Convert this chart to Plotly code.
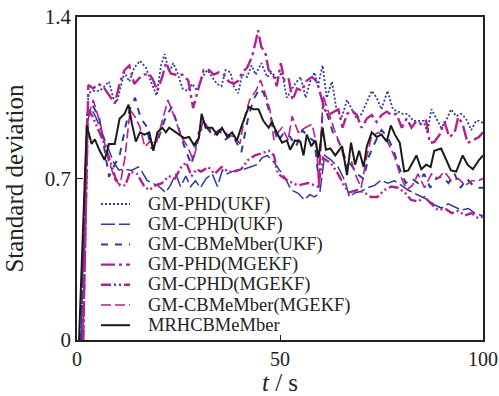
import plotly.graph_objects as go

# ---------------- data ----------------
t_phd_ukf = [1.0, 2.8, 4.0, 5.6, 6.8, 7.9, 8.9, 9.8, 10.8, 11.7, 12.9, 14.1, 15.5, 17.0, 18.2, 19.6, 20.7, 21.6, 22.7, 23.7,
             24.7, 26.0, 27.2, 28.4, 29.6, 30.9, 32.1, 33.3, 34.5, 35.6, 36.6, 37.8, 38.6, 39.7, 40.7, 41.9, 43.0, 44.0, 45.4,
             46.8, 48.0, 49.2, 50.5, 51.7, 52.7, 53.7, 55.1, 56.3, 57.4, 58.5, 59.3, 60.5, 61.5, 62.8, 64.0, 65.3, 66.5, 67.7,
             68.9, 70.1, 71.4, 72.6, 73.8, 75.0, 76.5, 77.8, 79.1, 80.3, 81.5, 82.8, 84.0, 85.3, 86.3, 87.3, 88.5, 89.7, 90.9,
             92.1, 93.4, 94.6, 95.8, 97.1, 98.3, 99.0, 100]
v_phd_ukf = [0, 1.07, 1.08, 1.08, 1.10, 1.12, 1.05, 1.03, 1.10, 1.16, 1.12, 1.18, 1.21, 1.18, 1.12, 1.06, 1.19, 1.24, 1.16, 1.20,
             1.16, 1.09, 1.08, 1.11, 1.08, 1.14, 1.17, 1.14, 1.11, 1.10, 1.17, 1.16, 1.10, 1.07, 1.15, 1.14, 1.19, 1.15, 1.20,
             1.14, 1.16, 1.13, 1.16, 1.05, 1.08, 1.11, 1.14, 1.05, 1.12, 1.16, 1.10, 1.19, 1.05, 1.12, 0.99, 0.97, 1.04, 1.00,
             0.96, 0.98, 1.03, 1.08, 1.05, 1.00, 1.08, 1.00, 0.99, 0.98, 0.98, 0.95, 0.95, 0.95, 0.90, 1.00, 0.96, 0.92, 0.95,
             1.00, 0.97, 0.98, 0.96, 0.91, 0.95, 0.95, 0.94]

t_cphd_ukf = [1.0, 2.5, 3.6, 4.6, 6.2, 7.9, 9.1, 10.3, 11.9, 13.5, 15.1, 16.0, 17.2, 18.5, 20.1, 21.8, 23.0, 24.3, 25.5, 26.8,
              28.0, 29.2, 30.4, 31.8, 33.3, 34.6, 35.8, 37.0, 38.2, 39.5, 41.1, 42.7, 44.3, 45.6, 46.9, 48.5, 49.8, 51.1, 52.8,
              54.4, 56.0, 57.3, 58.5, 59.8, 61.0, 62.6, 64.3, 65.9, 67.1, 68.4, 70.0, 71.6, 73.3, 74.9, 76.5, 78.2, 79.9, 81.5,
              83.2, 84.8, 86.5, 88.1, 89.8, 91.4, 93.1, 94.7, 96.4, 98.0, 99.6, 100]
v_cphd_ukf = [0, 0.95, 1.0, 0.967, 0.897, 0.823, 0.767, 0.737, 0.74, 0.735, 0.75, 0.73, 0.693, 0.68, 0.667, 0.64, 0.67, 0.72,
              0.665, 0.71, 0.665, 0.69, 0.66, 0.70, 0.72, 0.665, 0.737, 0.72, 0.73, 0.737, 0.74, 0.75, 0.76, 0.79, 0.80, 0.77,
              0.737, 0.707, 0.65, 0.637, 0.607, 0.63, 0.62, 0.637, 0.80, 0.78, 0.75, 0.693, 0.62, 0.637, 0.645, 0.66, 0.67,
              0.693, 0.68, 0.69, 0.67, 0.65, 0.635, 0.62, 0.607, 0.585, 0.572, 0.59, 0.575, 0.563, 0.57, 0.55, 0.54, 0.54]

t_cbm_ukf = [1.0, 2.5, 3.8, 5.5, 7.9, 9.0, 10.5, 12.0, 13.0, 14.3, 15.7, 17.0, 18.3, 19.8, 21.5, 23.3, 25.0, 26.6, 28.2, 30.0,
             31.5, 33.3, 35.0, 36.6, 38.3, 40.5, 42.0, 43.4, 45.0, 46.0, 47.2, 48.4, 49.5, 51.0, 52.5, 54.0, 55.5, 57.0, 58.5,
             59.5, 60.6, 61.8, 63.0, 64.5, 66.0, 67.5, 69.0, 70.5, 72.0, 73.5, 75.0, 76.5, 78.0, 79.5, 81.0, 82.5, 84.0, 85.5,
             87.0, 88.5, 90.0, 91.5, 93.0, 94.5, 96.0, 97.5, 99.0, 100]
v_cbm_ukf = [0, 0.98, 1.02, 0.96, 0.707, 0.75, 0.80, 0.93, 1.00, 1.05, 0.96, 0.93, 0.83, 0.86, 0.95, 1.01, 0.92, 0.83, 0.76,
             0.90, 0.93, 0.89, 0.91, 0.87, 0.89, 0.815, 0.95, 1.04, 1.09, 1.07, 1.0, 0.93, 0.86, 0.90, 0.88, 0.84, 0.91, 0.88,
             0.86, 0.70, 1.02, 0.97, 0.90, 0.86, 0.79, 0.76, 0.72, 0.70, 0.80, 0.86, 0.91, 0.88, 0.82, 0.74, 0.68, 0.70, 0.68,
             0.72, 0.66, 0.70, 0.71, 0.68, 0.72, 0.66, 0.70, 0.67, 0.66, 0.66]

t_phd_mg = [1.5, 2.8, 4.0, 5.2, 6.4, 7.9, 9.3, 10.5, 11.7, 12.9, 14.1, 15.3, 16.6, 17.8, 18.8, 19.8, 21.0, 21.9, 23.1, 24.3,
            26.0, 27.4, 28.6, 29.9, 31.2, 32.5, 33.7, 34.9, 36.1, 37.4, 38.6, 39.8, 40.7, 41.9, 43.1, 44.1, 44.6, 45.4, 46.4,
            47.2, 48.2, 49.2, 50.2, 51.1, 52.1, 53.1, 54.2, 55.4, 56.6, 57.9, 59.1, 60.2, 61.1, 62.4, 63.6, 64.4, 65.4, 66.5,
            67.7, 68.9, 70.1, 71.4, 72.6, 73.8, 75.0, 76.3, 77.5, 78.7, 80.0, 81.2, 82.4, 83.6, 84.8, 86.0, 86.9, 88.0, 89.3,
            90.5, 91.7, 93.0, 93.9, 95.0, 96.2, 97.5, 99.0, 100]
v_phd_mg = [0, 1.105, 1.09, 1.11, 1.10, 1.06, 1.025, 1.11, 1.17, 1.19, 1.11, 1.135, 1.15, 1.155, 1.125, 1.08, 1.14, 1.20,
            1.155, 1.15, 1.15, 1.125, 1.005, 1.09, 1.17, 1.17, 1.15, 1.16, 1.15, 1.12, 1.11, 1.125, 1.16, 1.18, 1.227, 1.30,
            1.343, 1.27, 1.245, 1.17, 1.155, 1.10, 1.20, 1.125, 1.135, 1.04, 1.09, 1.08, 1.125, 1.14, 1.12, 1.05, 0.995, 0.98,
            0.99, 1.0, 0.92, 0.98, 0.995, 0.975, 0.92, 0.96, 0.975, 0.945, 0.975, 0.99, 0.975, 0.98, 0.92, 0.96, 0.92, 0.95,
            0.935, 0.95, 0.854, 0.858, 0.89, 0.945, 0.88, 0.897, 0.966, 0.935, 0.854, 0.867, 0.88, 0.90]

t_cphd_mg = [1.5, 2.7, 3.8, 5.0, 6.5, 7.9, 9.5, 10.6, 11.9, 13.1, 14.8, 16.6, 17.8, 19.3, 20.9, 22.6, 24.1, 25.7, 26.9, 28.2,
             29.4, 30.6, 32.3, 33.9, 35.6, 37.2, 38.8, 40.4, 42.1, 43.8, 45.4, 47.3, 48.5, 49.5, 52.0, 54.4, 56.9, 59.4, 60.6,
             62.6, 64.3, 65.9, 67.1, 69.0, 70.7, 72.4, 74.0, 75.7, 77.4, 79.0, 80.7, 82.3, 84.0, 85.6, 87.3, 88.9, 90.6, 92.3,
             93.9, 95.5, 97.2, 98.8, 100]
v_cphd_mg = [0, 1.0, 0.97, 0.92, 0.86, 0.79, 0.70, 0.67, 0.67, 0.73, 0.72, 0.665, 0.65, 0.67, 0.68, 0.71, 0.70, 0.75, 0.77,
             0.71, 0.74, 0.73, 0.75, 0.72, 0.75, 0.73, 0.73, 0.74, 0.78, 0.80, 0.81, 0.82, 0.80, 0.72, 0.69, 0.67, 0.68, 0.665,
             0.79, 0.765, 0.72, 0.665, 0.64, 0.65, 0.64, 0.62, 0.62, 0.65, 0.665, 0.66, 0.64, 0.607, 0.60, 0.62, 0.59, 0.563,
             0.57, 0.55, 0.56, 0.54, 0.55, 0.528, 0.535]

t_cbm_mg = [1.5, 2.5, 4.0, 5.7, 7.6, 9.4, 10.6, 11.8, 13.1, 14.3, 15.5, 16.7, 17.9, 19.5, 21.0, 22.4, 24.0, 25.7, 27.3, 28.6,
            29.8, 31.1, 32.3, 34.0, 35.6, 37.2, 38.9, 40.1, 41.3, 42.5, 44.2, 45.2, 46.5, 47.5, 48.5, 49.5, 50.5, 52.0, 53.0,
            54.5, 56.2, 57.9, 59.0, 59.6, 60.6, 61.8, 63.4, 65.0, 66.3, 67.5, 68.8, 70.0, 71.3, 72.5, 74.2, 75.8, 77.1, 78.3,
            79.5, 81.2, 82.6, 84.0, 85.6, 87.3, 88.9, 90.5, 92.2, 93.9, 95.6, 97.2, 98.8, 100]
v_cbm_mg = [0, 0.95, 1.04, 0.94, 0.79, 0.693, 0.672, 0.79, 0.997, 0.967, 0.923, 0.837, 0.86, 0.85, 0.95, 1.04, 0.967, 0.88,
            0.837, 0.78, 0.86, 0.953, 0.92, 0.89, 0.91, 0.89, 0.88, 0.85, 0.967, 1.04, 1.084, 1.127, 1.06, 1.0, 0.867, 0.90,
            0.92, 0.867, 0.97, 0.90, 0.92, 0.935, 0.85, 0.66, 1.06, 0.997, 0.91, 0.837, 0.75, 0.78, 0.707, 0.66, 0.79, 0.88,
            0.90, 0.88, 0.837, 0.79, 0.72, 0.65, 0.67, 0.72, 0.66, 0.72, 0.70, 0.73, 0.69, 0.70, 0.67, 0.69, 0.69, 0.70]

t_mrh = [0.5, 2.4, 3.6, 4.4, 5.6, 6.8, 7.9, 9.3, 10.5, 11.7, 12.7, 13.5, 14.5, 15.5, 16.6, 17.8, 18.8, 19.8, 21, 21.9, 22.7,
         24.3, 26.4, 27.6, 28.8, 30, 30.7, 31.7, 33.3, 34.5, 35.7, 37, 38.2, 39.4, 40.6, 42.3, 43.5, 44.7, 45.9, 47.2, 48,
         49.2, 50.5, 51.7, 52.5, 53.7, 55, 55.8, 56.6, 57.7, 58.7, 59.5, 60.5, 61.3, 62.4, 63.6, 65.3, 66.5, 67.5, 68.5, 69.5,
         70.6, 71.4, 72.6, 73.8, 75, 76.3, 77.3, 78.3, 79.5, 80.6, 81.6, 82.4, 83.6, 84.8, 86, 87.1, 88, 89.7, 90.9, 92.1,
         93.4, 95, 96.2, 97.5, 99, 100]
v_mrh = [0, 0.93, 0.85, 0.87, 0.82, 0.78, 0.85, 0.85, 0.96, 0.98, 1.02, 0.94, 0.86, 0.90, 0.89, 0.90, 0.82, 0.90, 0.92, 0.90,
         0.92, 0.90, 0.875, 0.88, 0.845, 0.875, 0.98, 0.92, 0.92, 0.89, 0.92, 0.88, 0.90, 0.865, 0.93, 1.01, 1.0, 1.0, 0.95,
         0.92, 0.945, 0.90, 0.855, 0.865, 0.825, 0.865, 0.86, 0.80, 0.89, 0.84, 0.865, 0.79, 0.92, 0.825, 0.83, 0.80, 0.84,
         0.715, 0.855, 0.76, 0.82, 0.75, 0.84, 0.90, 0.88, 0.89, 0.86, 0.93, 0.89, 0.855, 0.73, 0.735, 0.76, 0.80, 0.74, 0.76,
         0.75, 0.82, 0.83, 0.78, 0.735, 0.73, 0.80, 0.76, 0.74, 0.78, 0.80]

names = ["GM-PHD(UKF)", "GM-CPHD(UKF)", "GM-CBMeMber(UKF)", "GM-PHD(MGEKF)",
         "GM-CPHD(MGEKF)", "GM-CBMeMber(MGEKF)", "MRHCBMeMber"]
x_ticks = [0, 50, 100]
y_ticks = [0, 0.7, 1.4]
y_ticktext = ["0", "0.7", "1.4"]

# ---------------- styles ----------------
BLUE = "#2e3c9e"
MAG = "#b4208e"
styles = [
    dict(color=BLUE, width=1.8, dash="2px,2px"),
    dict(color=BLUE, width=1.5, dash="14px,4px"),
    dict(color=BLUE, width=2.0, dash="7px,7px"),
    dict(color=MAG, width=2.4, dash="14px,4px,3px,4px"),
    dict(color=MAG, width=2.4, dash="10px,3px,2px,3px,2px,3px"),
    dict(color=MAG, width=1.6, dash="10px,4px"),
    dict(color="#1a1a1a", width=2.0, dash="solid"),
]
series = [(t_phd_ukf, v_phd_ukf), (t_cphd_ukf, v_cphd_ukf), (t_cbm_ukf, v_cbm_ukf),
          (t_phd_mg, v_phd_mg), (t_cphd_mg, v_cphd_mg), (t_cbm_mg, v_cbm_mg), (t_mrh, v_mrh)]

fig = go.Figure()
for name, (tt, vv), st in zip(names, series, styles):
    n = min(len(tt), len(vv))
    fig.add_trace(go.Scatter(x=tt[:n], y=vv[:n], mode="lines", name=name, line=st, showlegend=False))

# ---------------- layout ----------------
W, H = 499, 396
L, R, T, B = 77, 16, 17, 56
pw, ph = W - L - R, H - T - B
FONT = "Liberation Serif"

def px_x(p):
    return (p - L) / pw

def px_y(p):
    return (H - B - p) / ph

# hand-placed legend (tight row spacing like the reference)
shapes = []
annotations = []
for i, (name, st) in enumerate(zip(names, styles)):
    yy = px_y(204 + 20.2 * i)
    shapes.append(dict(type="line", xref="paper", yref="paper", x0=px_x(101), x1=px_x(130), y0=yy, y1=yy,
                       line=dict(color=st["color"], width=st["width"], dash=st["dash"])))
    annotations.append(dict(xref="paper", yref="paper", x=px_x(146), y=yy, text=name, showarrow=False,
                            xanchor="left", yanchor="middle", font=dict(family=FONT, size=18.5, color="#222")))

fig.update_layout(
    width=W, height=H,
    margin=dict(l=L, r=R, t=T, b=B),
    paper_bgcolor="white", plot_bgcolor="white",
    font=dict(family=FONT, size=21, color="#222"),
    shapes=shapes, annotations=annotations,
    xaxis=dict(range=[0, 100], tickvals=x_ticks, ticks="inside", ticklen=5, tickcolor="#222", automargin=False,
               showgrid=False, zeroline=False, showline=True, mirror=True, linecolor="#222", linewidth=1.6,
               title=dict(text="<i>t</i> / s", standoff=8), tickfont=dict(size=20)),
    yaxis=dict(range=[0, 1.4], tickvals=y_ticks, ticktext=y_ticktext, ticks="inside", ticklen=6, tickcolor="#222",
               automargin=False,
               showgrid=False, zeroline=False, showline=True, mirror=True, linecolor="#222", linewidth=1.6,
               title=dict(text="Standard deviation", standoff=14), tickfont=dict(size=21)),
)

fig.write_html("out.html", config={"displayModeBar": False},
               post_script="document.body.style.margin='0';document.body.style.overflow='hidden';")
